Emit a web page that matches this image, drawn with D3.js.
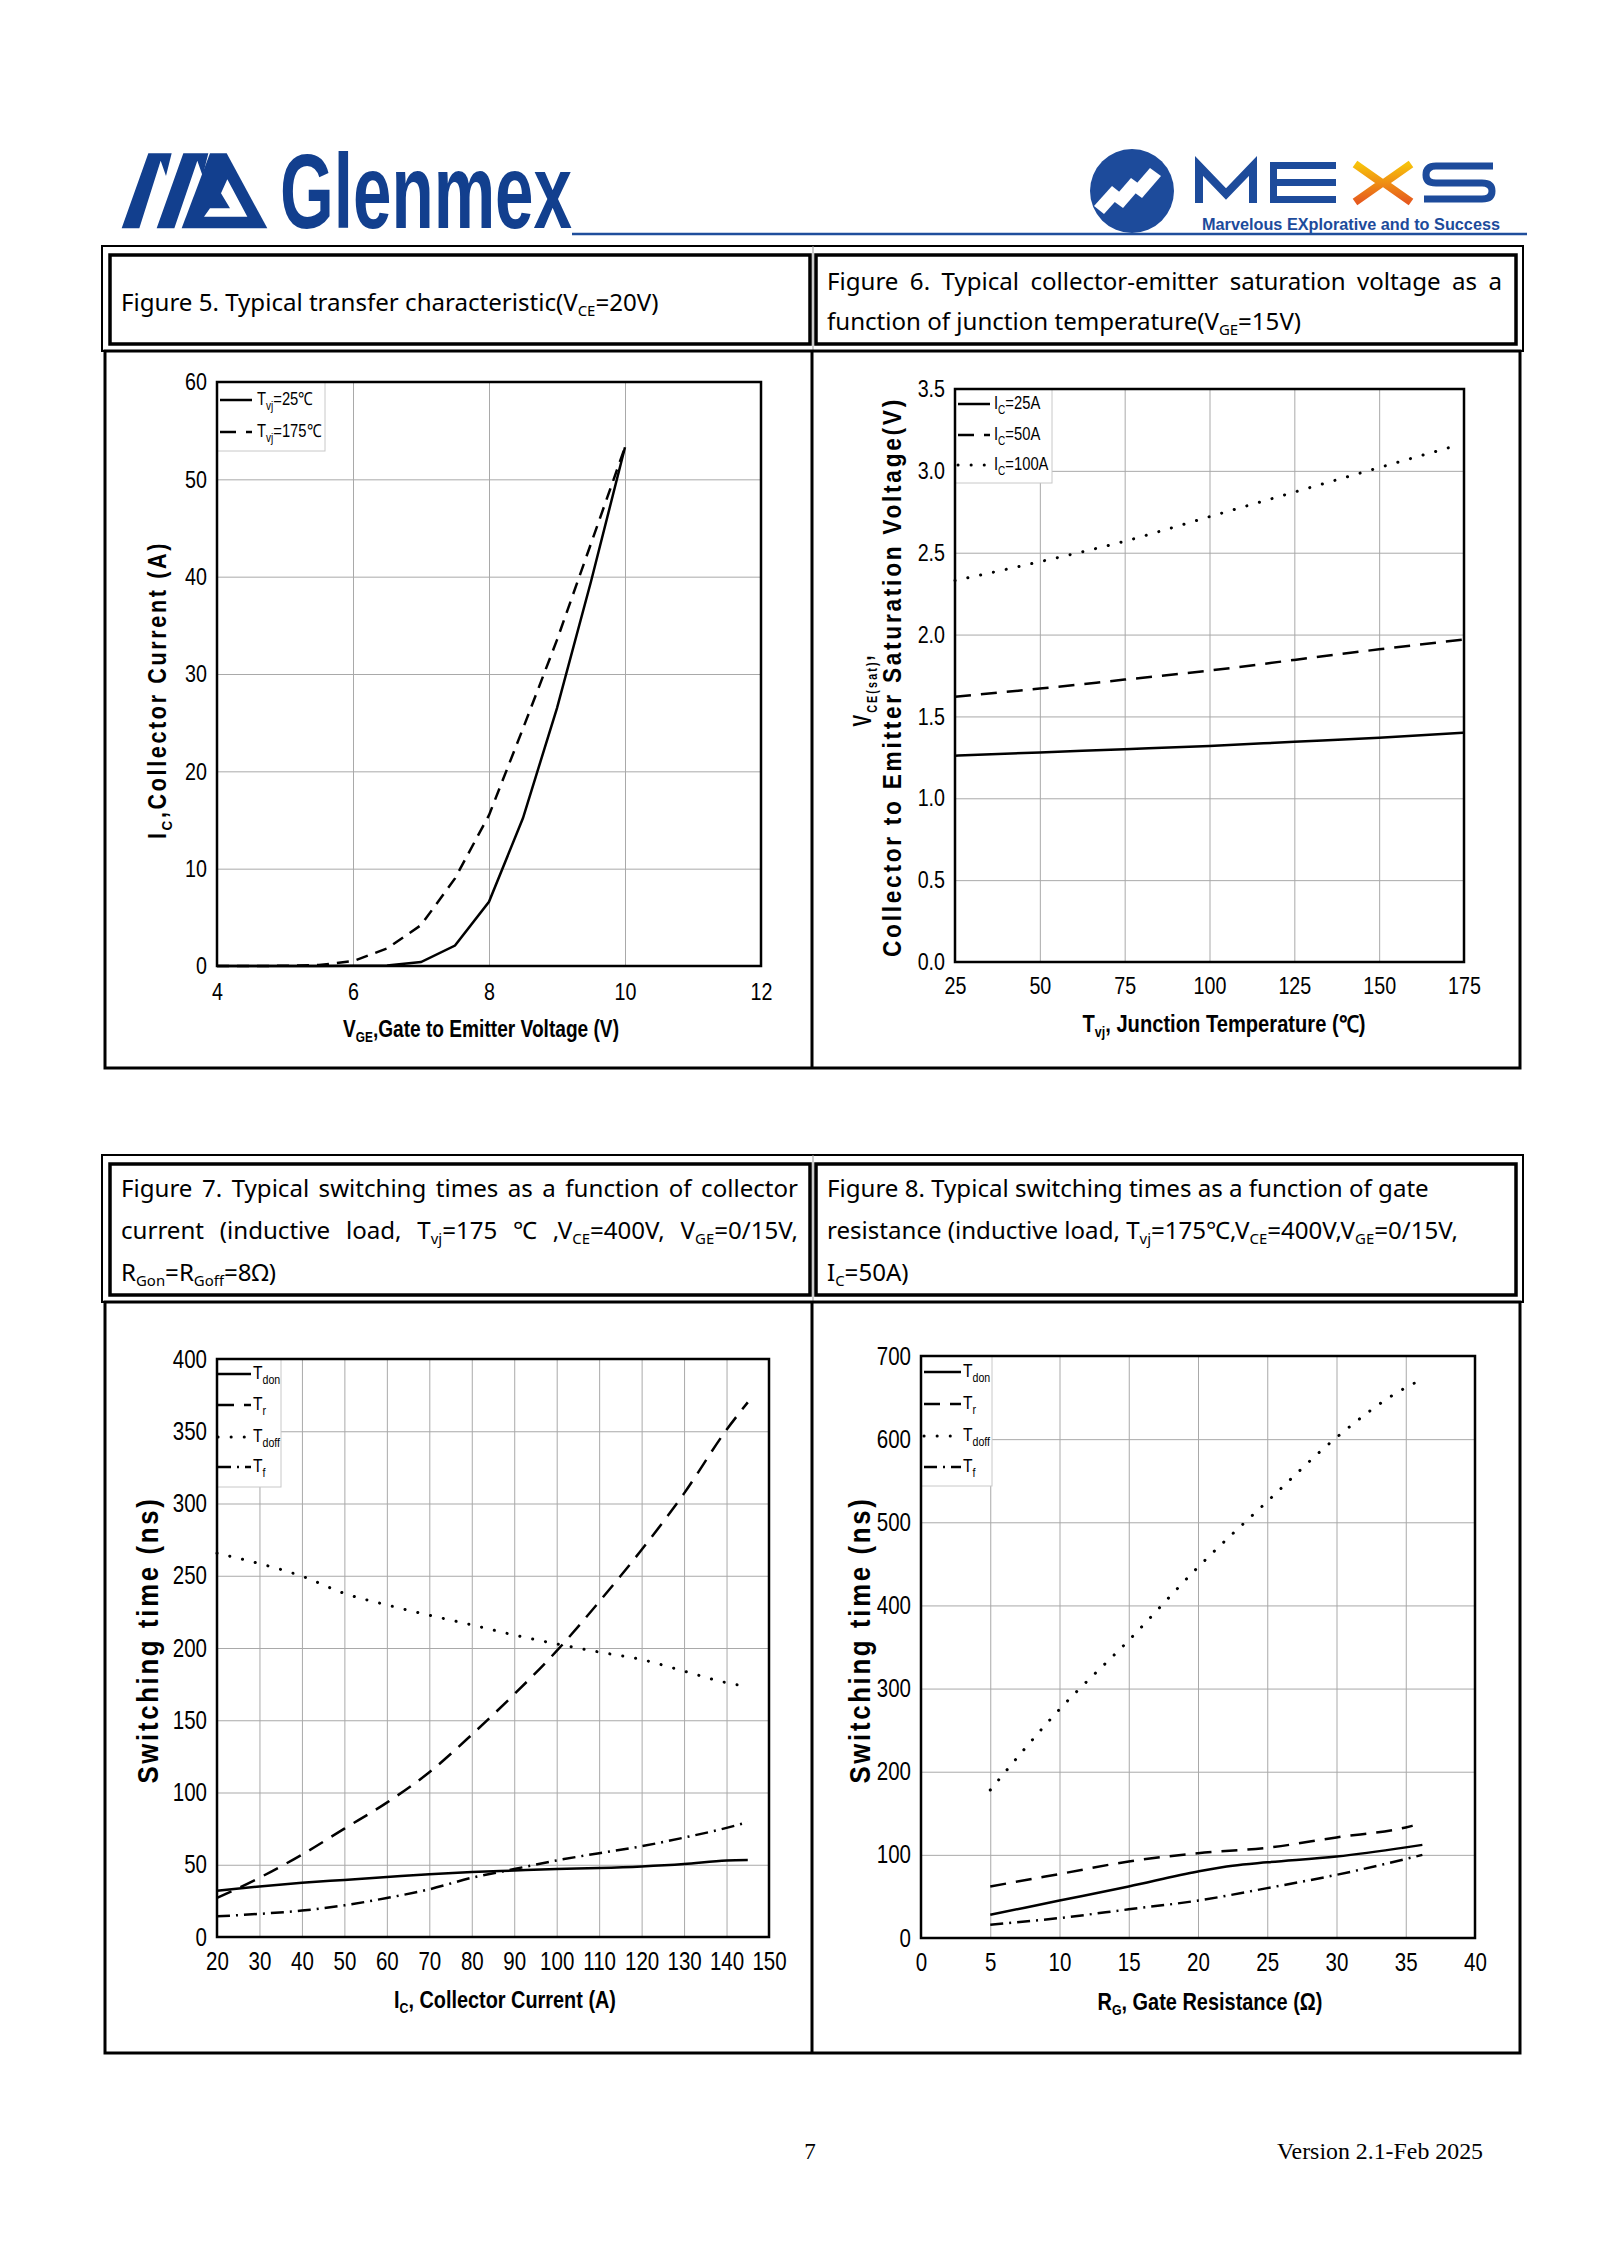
<!DOCTYPE html>
<html>
<head>
<meta charset="utf-8">
<script src="https://cdn.jsdelivr.net/npm/d3@7"></script>
<style>
body { margin: 0; background: #fff; }
svg { display: block; }
</style>
</head>
<body>
<div id="page"></div>
<script>
// ---- Figure 5: transfer characteristic ----
var fig5Vge    = [4, 4.5, 5, 5.5, 6, 6.5, 7, 7.5, 8, 8.5, 9, 9.5, 10];
var fig5Ic25   = [0, 0, 0, 0, 0.02, 0.05, 0.4, 2.1, 6.6, 15.2, 26.5, 39.5, 53.3];
var fig5Ic175  = [0, 0, 0.02, 0.1, 0.5, 1.8, 4.2, 9.0, 15.5, 24.4, 33.5, 43.4, 53.3];
var fig5XTicks = [4, 6, 8, 10, 12];
var fig5YTicks = [0, 10, 20, 30, 40, 50, 60];

// ---- Figure 6: VCE(sat) vs junction temperature ----
var fig6Tvj     = [25, 50, 75, 100, 125, 150, 175];
var fig6TvjDot  = [25, 50, 75, 100, 125, 150, 172];
var fig6Ic25    = [1.26, 1.28, 1.30, 1.32, 1.345, 1.37, 1.40];
var fig6Ic50    = [1.62, 1.67, 1.725, 1.78, 1.845, 1.91, 1.97];
var fig6Ic100   = [2.33, 2.445, 2.57, 2.72, 2.87, 3.02, 3.15];
var fig6XTicks  = [25, 50, 75, 100, 125, 150, 175];
var fig6YTicks  = [0, 0.5, 1.0, 1.5, 2.0, 2.5, 3.0, 3.5];

// ---- Figure 7: switching times vs collector current ----
var fig7Ic    = [20, 30, 40, 50, 60, 70, 80, 90, 100, 110, 120, 130, 140, 145];
var fig7Tdon  = [32, 35, 37.5, 39.5, 41.5, 43.5, 45, 46, 47, 47.7, 48.8, 50.5, 53, 53.3];
var fig7Tr    = [27, 41, 57, 75, 93, 114, 140, 168, 198, 232, 268, 307, 351, 370];
var fig7Tdoff = [265.6, 258.4, 249.7, 237.8, 229.8, 222.7, 216, 209, 202.8, 197.2, 192, 184, 176, 173.4];
var fig7Tf    = [14.3, 16, 18.3, 21.9, 27, 33, 41, 47, 53, 58, 62.8, 68.8, 75.5, 79.5];
var fig7XTicks = [20, 30, 40, 50, 60, 70, 80, 90, 100, 110, 120, 130, 140, 150];
var fig7YTicks = [0, 50, 100, 150, 200, 250, 300, 350, 400];

// ---- Figure 8: switching times vs gate resistance ----
var fig8RgDon  = [5, 10, 15, 20, 22.5, 25, 30, 35, 36.2];
var fig8Tdon   = [28, 45, 62, 80, 87, 91, 98, 109, 112];
var fig8RgR    = [5, 10, 15, 20, 25, 30, 35, 35.5];
var fig8Tr     = [62, 77, 92, 102, 108.5, 121, 133, 135];
var fig8RgDoff = [5, 10, 15, 20, 25, 30, 35, 35.7];
var fig8Tdoff  = [178, 275, 358, 446, 525, 602, 662, 668];
var fig8RgF    = [5, 10, 15, 20, 25, 30, 35, 36.2];
var fig8Tf     = [16, 24, 34.5, 45, 60, 76, 95, 100];
var fig8XTicks = [0, 5, 10, 15, 20, 25, 30, 35, 40];
var fig8YTicks = [0, 100, 200, 300, 400, 500, 600, 700];

// Arial-like face, squeezed to look like Arial Narrow
var NARROW = "'Liberation Sans', Arial, sans-serif";
var SQUEEZE = 0.82;
var SANS = "'Noto Sans', 'Open Sans', sans-serif";
var BLUE = "#123f8e";

var svg = d3.select("#page").append("svg")
    .attr("width", 1600)
    .attr("height", 2262);

svg.append("rect").attr("width", 1600).attr("height", 2262).attr("fill", "#fff");

// text with subscripts: parts = [[text, isSub], ...]
function addRich(sel, parts, subSize, shift) {
    parts.forEach(function(p, i) {
        var t = sel.append("tspan").text(p[0]);
        if (p[1]) t.attr("font-size", subSize).attr("dy", shift);
        else if (i > 0 && parts[i - 1][1]) t.attr("dy", -shift);
    });
}

// narrow the glyphs of a text selection
function condense(sel, f) {
    sel.each(function() {
        var w = this.getComputedTextLength();
        d3.select(this).attr("textLength", w * f).attr("lengthAdjust", "spacingAndGlyphs");
    });
}

// ---------------- logos ----------------
var logo = svg.append("g");
function pts(list, ox, oy) {
    return list.map(function(p) { return [p[0] / 3 + ox, p[1] / 3 + oy].join(","); }).join(" ");
}
logo.append("polygon").attr("fill", BLUE)
    .attr("points", pts([[35,265],[115,40],[185,40],[168,108],[152,62],[88,265]], 110, 140));
logo.append("polygon").attr("fill", BLUE)
    .attr("points", pts([[140,265],[220,40],[295,40],[278,108],[262,62],[193,265]], 110, 140));
logo.append("polygon").attr("fill", BLUE)
    .attr("points", pts([[215,265],[300,40],[350,40],[472,265]], 110, 140));
logo.append("polygon").attr("fill", "#fff")
    .attr("points", pts([[282,230],[412,230],[352,118],[333,160],[360,205],[300,205]], 110, 140));
logo.append("text")
    .attr("x", 280).attr("y", 228)
    .attr("font-family", NARROW).attr("font-weight", "bold")
    .attr("font-size", 106).attr("fill", BLUE)
    .attr("textLength", 292).attr("lengthAdjust", "spacingAndGlyphs")
    .text("Glenmex");

// blue rule under the header
logo.append("line").attr("x1", 572).attr("x2", 1527).attr("y1", 234).attr("y2", 234)
    .attr("stroke", "#1f4e9c").attr("stroke-width", 2.5);

// MEXS mark
var mexBlue = "#1d4b9b";
logo.append("circle").attr("cx", 1132).attr("cy", 191).attr("r", 42).attr("fill", mexBlue);
[[[1094,206],[1112,186],[1122,194],[1104,214]],
 [[1112,200],[1131,178],[1142,186],[1123,208]],
 [[1131,190],[1150,168],[1161,176],[1142,198]]].forEach(function(q) {
    logo.append("polygon").attr("fill", "#fff").attr("points", q.join(" "));
});
var defs = svg.append("defs");
var grad = defs.append("linearGradient").attr("id", "xgrad")
    .attr("x1", 0).attr("y1", 0).attr("x2", 0).attr("y2", 1);
grad.append("stop").attr("offset", "0%").attr("stop-color", "#f7c20a");
grad.append("stop").attr("offset", "100%").attr("stop-color", "#e65a1e");
// M
logo.append("path").attr("fill", "none").attr("stroke", mexBlue).attr("stroke-width", 8)
    .attr("d", "M1199,203 L1199,166 L1226,194 L1253,166 L1253,203");
// E
[162, 179, 196].forEach(function(yy) {
    logo.append("rect").attr("x", 1270).attr("y", yy).attr("width", 66).attr("height", 7).attr("fill", mexBlue);
});
logo.append("rect").attr("x", 1270).attr("y", 162).attr("width", 7).attr("height", 41).attr("fill", mexBlue);
// X
logo.append("path").attr("fill", "none").attr("stroke", "url(#xgrad)").attr("stroke-width", 8)
    .attr("d", "M1355,164 L1382,183 L1355,202 M1411,164 L1384,183 L1411,202");
// S
logo.append("path").attr("fill", "none").attr("stroke", mexBlue).attr("stroke-width", 7)
    .attr("d", "M1493,166 L1436,166 Q1426,166 1426,175 Q1426,183 1436,183 L1482,183 Q1492,183 1492,191 Q1492,199 1482,199 L1424,199");
logo.append("text")
    .attr("x", 1202).attr("y", 230)
    .attr("font-family", NARROW).attr("font-weight", "bold")
    .attr("font-size", 17).attr("fill", mexBlue)
    .attr("textLength", 298).attr("lengthAdjust", "spacingAndGlyphs")
    .text("Marvelous EXplorative and to Success");

// ---------------- table frames ----------------
function drawTable(t) {
    var g = svg.append("g").attr("fill", "none").attr("stroke", "#000");
    // outer header border
    g.append("rect").attr("x", 102).attr("y", t.top).attr("width", 1421).attr("height", t.hdrBottom - t.top)
        .attr("stroke-width", 2);
    // inner header cells
    g.append("rect").attr("x", 110).attr("y", t.top + 9).attr("width", 700).attr("height", t.hdrBottom - t.top - 16)
        .attr("stroke-width", 3.5);
    g.append("rect").attr("x", 816).attr("y", t.top + 9).attr("width", 700).attr("height", t.hdrBottom - t.top - 16)
        .attr("stroke-width", 3.5);
    g.append("line").attr("x1", 813).attr("x2", 813).attr("y1", t.top).attr("y2", t.hdrBottom)
        .attr("stroke", "#999").attr("stroke-width", 1);
    // chart row
    g.append("rect").attr("x", 105).attr("y", t.hdrBottom).attr("width", 1415).attr("height", t.bottom - t.hdrBottom)
        .attr("stroke-width", 3);
    g.append("line").attr("x1", 812).attr("x2", 812).attr("y1", t.hdrBottom).attr("y2", t.bottom)
        .attr("stroke-width", 3);
}
drawTable({ top: 246, hdrBottom: 351, bottom: 1068 });
drawTable({ top: 1155, hdrBottom: 1302, bottom: 2053 });

// ---------------- header captions ----------------
var headerLines = [
    { x: 121, y: 311, parts: [["Figure 5. Typical transfer characteristic(V"], ["CE", 1], ["=20V)"]] },
    { x: 827, y: 290, w: 675, parts: [["Figure 6. Typical collector-emitter saturation voltage as a"]] },
    { x: 827, y: 330, parts: [["function of junction temperature(V"], ["GE", 1], ["=15V)"]] },
    { x: 121, y: 1197, w: 677, parts: [["Figure 7. Typical switching times as a function of collector"]] },
    { x: 121, y: 1239, w: 677, parts: [["current (inductive load, T"], ["vj", 1], ["=175 ℃ ,V"], ["CE", 1], ["=400V, V"], ["GE", 1], ["=0/15V,"]] },
    { x: 121, y: 1281, parts: [["R"], ["Gon", 1], ["=R"], ["Goff", 1], ["=8Ω)"]] },
    { x: 827, y: 1197, parts: [["Figure 8. Typical switching times as a function of gate"]] },
    { x: 827, y: 1239, parts: [["resistance (inductive load, T"], ["vj", 1], ["=175℃,V"], ["CE", 1], ["=400V,V"], ["GE", 1], ["=0/15V,"]] },
    { x: 827, y: 1281, parts: [["I"], ["C", 1], ["=50A)"]] }
];

// pick a font size so the caption widths match the reference
var probe = svg.append("text").attr("font-family", SANS).attr("font-size", 23)
    .text("Figure 8. Typical switching times as a function of gate");
var hdrSize = 23 * 602 / probe.node().getComputedTextLength();
hdrSize = Math.max(19, Math.min(25, hdrSize));
probe.remove();

headerLines.forEach(function(h) {
    var t = svg.append("text")
        .attr("x", h.x).attr("y", h.y)
        .attr("font-family", SANS).attr("font-size", hdrSize).attr("fill", "#000");
    addRich(t, h.parts, hdrSize * 0.62, 5);
    if (h.w) {
        var natural = t.node().getComputedTextLength();
        var spaces = h.parts.map(function(p) { return p[0]; }).join("").split(" ").length - 1;
        if (spaces > 0 && natural < h.w) t.attr("word-spacing", (h.w - natural) / spaces);
    }
});

// ---------------- charts ----------------
var STYLES = {
    solid:   { dash: null, cap: "butt" },
    dash5:   { dash: "12,8", cap: "butt" },
    dash:    { dash: "16,10", cap: "butt" },
    dot:     { dash: "0.1,13", cap: "round" },
    dashdot: { dash: "13,6,2,6", cap: "butt" }
};

function drawChart(cfg) {
    var g = svg.append("g");
    var x = d3.scaleLinear().domain(cfg.xDomain).range([cfg.left, cfg.right]);
    var y = d3.scaleLinear().domain(cfg.yDomain).range([cfg.bottom, cfg.top]);
    var w = cfg.right - cfg.left, h = cfg.bottom - cfg.top;

    // grid lines
    g.append("g").attr("transform", `translate(0, ${cfg.bottom})`)
        .call(d3.axisBottom(x).tickValues(cfg.xTicks).tickSize(-h).tickFormat(""))
        .call(function(a) { a.select(".domain").remove(); })
        .selectAll("line").attr("stroke", "#a9a9a9").attr("stroke-width", 1);
    g.append("g").attr("transform", `translate(${cfg.left}, 0)`)
        .call(d3.axisLeft(y).tickValues(cfg.yTicks).tickSize(-w).tickFormat(""))
        .call(function(a) { a.select(".domain").remove(); })
        .selectAll("line").attr("stroke", "#a9a9a9").attr("stroke-width", 1);

    // curves
    var line = d3.line()
        .x(function(d) { return x(d[0]); })
        .y(function(d) { return y(d[1]); })
        .curve(cfg.curve);
    cfg.series.forEach(function(s) {
        var data = s.x.map(function(v, i) { return [v, s.y[i]]; });
        var st = STYLES[s.style];
        g.append("path")
            .attr("d", line(data))
            .attr("fill", "none")
            .attr("stroke", "#000")
            .attr("stroke-width", s.style === "dot" ? 3 : 2.5)
            .attr("stroke-linecap", st.cap)
            .attr("stroke-dasharray", st.dash);
    });

    // legend
    var lg = cfg.legend;
    g.append("rect")
        .attr("x", lg.box[0]).attr("y", lg.box[1]).attr("width", lg.box[2]).attr("height", lg.box[3])
        .attr("fill", "#fff").attr("stroke", "#c8c8c8").attr("stroke-width", 1);
    cfg.series.forEach(function(s, i) {
        var st = STYLES[s.style === "dash5" ? "dash" : s.style];
        var yy = lg.rows[i];
        g.append("line")
            .attr("x1", lg.lineX[0]).attr("x2", lg.lineX[1]).attr("y1", yy).attr("y2", yy)
            .attr("stroke", "#000").attr("stroke-width", s.style === "dot" ? 3 : 2.5)
            .attr("stroke-linecap", st.cap).attr("stroke-dasharray", st.dash);
        var t = g.append("text").attr("x", lg.textX).attr("y", yy + 5)
            .attr("font-family", NARROW).attr("font-size", lg.size);
        addRich(t, s.label, lg.size * 0.68, 5);
        condense(t, SQUEEZE);
    });

    // frame
    g.append("rect")
        .attr("x", cfg.left).attr("y", cfg.top).attr("width", w).attr("height", h)
        .attr("fill", "none").attr("stroke", "#000").attr("stroke-width", 2.5);

    // tick labels
    var xa = g.append("g").attr("transform", `translate(0, ${cfg.bottom})`)
        .call(d3.axisBottom(x).tickValues(cfg.xTicks).tickSize(0).tickPadding(cfg.xPad).tickFormat(d3.format("d")));
    var ya = g.append("g").attr("transform", `translate(${cfg.left}, 0)`)
        .call(d3.axisLeft(y).tickValues(cfg.yTicks).tickSize(0).tickPadding(10).tickFormat(d3.format(cfg.yFormat)));
    [xa, ya].forEach(function(a) {
        a.select(".domain").remove();
        a.attr("font-family", NARROW).attr("font-size", cfg.tickSize);
        a.selectAll("text").attr("fill", "#000");
        condense(a.selectAll("text"), SQUEEZE);
    });

    // axis titles
    var xt = g.append("text")
        .attr("x", cfg.xTitle.x).attr("y", cfg.xTitle.y)
        .attr("text-anchor", "middle")
        .attr("font-family", NARROW).attr("font-weight", "bold").attr("font-size", cfg.xTitle.size)
        .attr("textLength", cfg.xTitle.len).attr("lengthAdjust", "spacingAndGlyphs");
    addRich(xt, cfg.xTitle.parts, cfg.xTitle.size * 0.62, 5);

    cfg.yTitles.forEach(function(yt) {
        var t = g.append("text")
            .attr("transform", `translate(${yt.cx}, ${yt.cy}) rotate(-90)`)
            .attr("text-anchor", "middle").attr("dy", "0.36em")
            .attr("font-family", NARROW).attr("font-weight", "bold").attr("font-size", yt.size)
            .attr("letter-spacing", 3)
            .attr("textLength", yt.len).attr("lengthAdjust", "spacingAndGlyphs");
        addRich(t, yt.parts, yt.size * 0.62, 6);
    });
}

var tdonLbl  = [["T"], ["don", 1]];
var trLbl    = [["T"], ["r", 1]];
var tdoffLbl = [["T"], ["doff", 1]];
var tfLbl    = [["T"], ["f", 1]];

drawChart({
    left: 217, right: 761, top: 382, bottom: 966,
    xDomain: [4, 12], yDomain: [0, 60], xTicks: fig5XTicks, yTicks: fig5YTicks,
    yFormat: "d", tickSize: 24, xPad: 17, curve: d3.curveLinear,
    series: [
        { x: fig5Vge, y: fig5Ic25, style: "solid", label: [["T"], ["vj", 1], ["=25℃"]] },
        { x: fig5Vge, y: fig5Ic175, style: "dash5", label: [["T"], ["vj", 1], ["=175℃"]] }
    ],
    legend: { box: [217, 382, 108, 69], rows: [400, 432], lineX: [220, 252], textX: 257, size: 18 },
    xTitle: { x: 481, y: 1037, len: 276, size: 23, parts: [["V"], ["GE", 1], [",Gate to Emitter Voltage (V)"]] },
    yTitles: [{ cx: 157, cy: 690, len: 298, size: 25, parts: [["I"], ["C", 1], [",Collector Current (A)"]] }]
});

drawChart({
    left: 955, right: 1464, top: 389, bottom: 962,
    xDomain: [25, 175], yDomain: [0, 3.5], xTicks: fig6XTicks, yTicks: fig6YTicks,
    yFormat: ".1f", tickSize: 24, xPad: 15, curve: d3.curveMonotoneX,
    series: [
        { x: fig6Tvj, y: fig6Ic25, style: "solid", label: [["I"], ["C", 1], ["=25A"]] },
        { x: fig6Tvj, y: fig6Ic50, style: "dash", label: [["I"], ["C", 1], ["=50A"]] },
        { x: fig6TvjDot, y: fig6Ic100, style: "dot", label: [["I"], ["C", 1], ["=100A"]] }
    ],
    legend: { box: [955, 389, 97, 94], rows: [404, 435, 465], lineX: [958, 990], textX: 994, size: 18 },
    xTitle: { x: 1224, y: 1032, len: 283, size: 23, parts: [["T"], ["vj", 1], [", Junction Temperature (℃)"]] },
    yTitles: [
        { cx: 892, cy: 677, len: 560, size: 25, parts: [["Collector to Emitter Saturation Voltage(V)"]] },
        { cx: 862, cy: 690, len: 73, size: 25, parts: [["V"], ["CE(sat)", 1], [","]] }
    ]
});

drawChart({
    left: 217, right: 769, top: 1359, bottom: 1937,
    xDomain: [20, 150], yDomain: [0, 400], xTicks: fig7XTicks, yTicks: fig7YTicks,
    yFormat: "d", tickSize: 25, xPad: 15, curve: d3.curveMonotoneX,
    series: [
        { x: fig7Ic, y: fig7Tdon, style: "solid", label: tdonLbl },
        { x: fig7Ic, y: fig7Tr, style: "dash", label: trLbl },
        { x: fig7Ic, y: fig7Tdoff, style: "dot", label: tdoffLbl },
        { x: fig7Ic, y: fig7Tf, style: "dashdot", label: tfLbl }
    ],
    legend: { box: [217, 1359, 64, 128], rows: [1374, 1405, 1437, 1467], lineX: [218, 251], textX: 253, size: 19 },
    xTitle: { x: 505, y: 2008, len: 222, size: 24, parts: [["I"], ["C", 1], [", Collector Current (A)"]] },
    yTitles: [{ cx: 148, cy: 1640, len: 287, size: 29, parts: [["Switching time (ns)"]] }]
});

drawChart({
    left: 921, right: 1475, top: 1356, bottom: 1938,
    xDomain: [0, 40], yDomain: [0, 700], xTicks: fig8XTicks, yTicks: fig8YTicks,
    yFormat: "d", tickSize: 25, xPad: 15, curve: d3.curveMonotoneX,
    series: [
        { x: fig8RgDon, y: fig8Tdon, style: "solid", label: tdonLbl },
        { x: fig8RgR, y: fig8Tr, style: "dash", label: trLbl },
        { x: fig8RgDoff, y: fig8Tdoff, style: "dot", label: tdoffLbl },
        { x: fig8RgF, y: fig8Tf, style: "dashdot", label: tfLbl }
    ],
    legend: { box: [921, 1356, 71, 130], rows: [1372, 1404, 1436, 1467], lineX: [924, 961], textX: 963, size: 19 },
    xTitle: { x: 1210, y: 2010, len: 225, size: 24, parts: [["R"], ["G", 1], [", Gate Resistance (Ω)"]] },
    yTitles: [{ cx: 860, cy: 1640, len: 287, size: 29, parts: [["Switching time (ns)"]] }]
});

// ---------------- footer ----------------
svg.append("text").attr("x", 810).attr("y", 2159).attr("text-anchor", "middle")
    .attr("font-family", "'Liberation Serif', serif").attr("font-size", 23).text("7");
svg.append("text").attr("x", 1277).attr("y", 2159)
    .attr("font-family", "'Liberation Serif', serif").attr("font-size", 23)
    .attr("textLength", 206).attr("lengthAdjust", "spacingAndGlyphs")
    .text("Version 2.1-Feb 2025");
</script>
</body>
</html>
